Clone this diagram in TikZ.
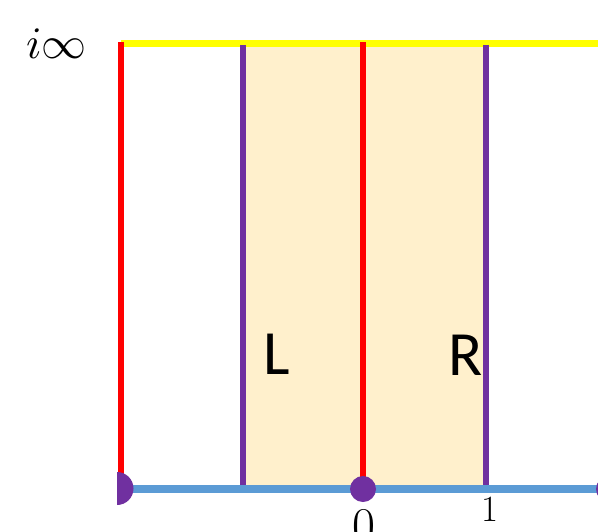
\documentclass[tikz,border=0pt]{standalone}
\usepackage{graphicx}
\usepackage{fontspec}
\newfontfamily\lblfont{Carlito}
\definecolor{stripcol}{HTML}{FFF0CC}
\definecolor{pur}{HTML}{7030A0}
\definecolor{blu}{HTML}{5B9BD5}
\definecolor{yel}{HTML}{FFFF00}
\definecolor{rd}{HTML}{FF0000}
\begin{document}
\begin{tikzpicture}[x=1pt,y=-1pt,
  redline/.style={draw=rd,line width=6pt},
  purline/.style={draw=pur,line width=5.5pt},
  dotstyle/.style={fill=pur},
  lbl/.style={inner sep=0pt,anchor=base west,font=\lblfont\fontsize{63}{63}\selectfont},
  num/.style={inner sep=0pt,anchor=base}]
\useasboundingbox (0,0) rectangle (598,531);
\clip (0,0) rectangle (598,531);
% coordinates
\coordinate (tl) at (121,43.5);
\coordinate (tr) at (600,43.5);
\coordinate (bl) at (117,489);
\coordinate (br) at (600,489);
\coordinate (r1t) at (121,42);
\coordinate (r1b) at (121,488);
\coordinate (r2t) at (363,42);
\coordinate (r2b) at (363,488);
\coordinate (p1t) at (243,45);
\coordinate (p1b) at (243,488);
\coordinate (p2t) at (486,45);
\coordinate (p2b) at (486,488);
% shaded strip
\fill[stripcol] (p1t) rectangle (p2b);
% top line
\draw[draw=yel,line width=7pt] (tl) -- (tr);
% purple lines
\draw[purline] (p1t) -- (p1b);
\draw[purline] (p2t) -- (p2b);
% red lines
\draw[redline] (r1t) -- (r1b);
\draw[redline] (r2t) -- (r2b);
% blue axis
\draw[draw=blu,line width=8pt] (bl) -- (br);
% dots
\begin{scope}
\clip (117,460) rectangle (150,520);
\fill[dotstyle] (117,488.5) circle[radius=16.5pt];
\end{scope}
\fill[dotstyle] (363,489) circle[radius=13pt];
\fill[dotstyle] (609,489) circle[radius=13pt];
% labels
\node[inner sep=0pt,anchor=base west] (inf) at (26,58) {\scalebox{4.5}{$i\infty$}};
\node[lbl] (L) at (263,374) {L};
\node[lbl] (R) at (448,375) {R};
\node[num,font=\fontsize{37}{37}\selectfont] (one) at (489.5,521) {1};
\node[num,font=\fontsize{50}{50}\selectfont] (zero) at (364,542) {0};
\end{tikzpicture}
\end{document}
